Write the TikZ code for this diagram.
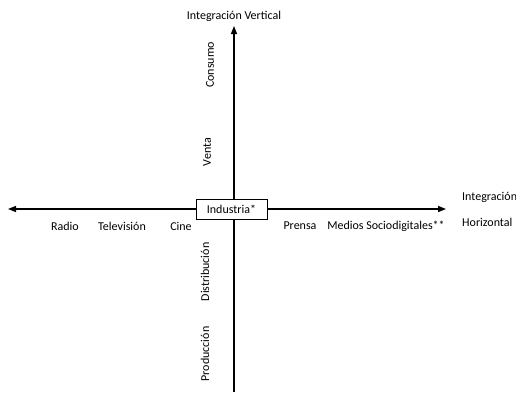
\documentclass[tikz,border=0pt]{standalone}
\usepackage{fontspec}
\setmainfont{Carlito}
\usetikzlibrary{arrows.meta}

\begin{document}
\begin{tikzpicture}[x=1pt,y=-1pt,tip/.tip={Triangle[length=8pt,width=6pt]},axis/.style={line width=1.4pt},lbl/.style={font=\fontsize{12}{14}\selectfont,inner sep=0pt},vlbl/.style={lbl,rotate=90},box/.style={draw,fill=white,line width=0.6pt,minimum width=71pt,minimum height=20pt,inner sep=0pt,font=\fontsize{12}{14}\selectfont}]
\useasboundingbox (0,0) rectangle (516,394);
\coordinate (top) at (234,26);
\coordinate (bot) at (234,392);
\coordinate (left) at (8,209);
\coordinate (right) at (446,209);
\draw[axis,-tip] (bot) -- (top);
\draw[axis,tip-tip] (left) -- (right);
\node[box] (ind) at (231.5,209.5) {Industria*};
\node[lbl] (iv) at (234,16) {Integración Vertical};
\node[lbl,anchor=west] (ih1) at (462,197) {Integración};
\node[lbl,anchor=west] (ih2) at (462,222) {Horizontal};
\foreach \x/\1/\n in %
{65/Radio/ra,122/Televisión/tv,181/Cine/ci,300/Prensa/pr,386/Medios Sociodigitales**/ms} {
   \node[lbl] (\n) at (\x,226) {\1};
}
\foreach \x/\y/\1/\n in %
{210/65/Consumo/co,207/152/Venta/ve,205/272/Distribución/di,205/354/Producción/po} {
   \node[vlbl] (\n) at (\x,\y) {\1};
}
\end{tikzpicture}
\end{document}
